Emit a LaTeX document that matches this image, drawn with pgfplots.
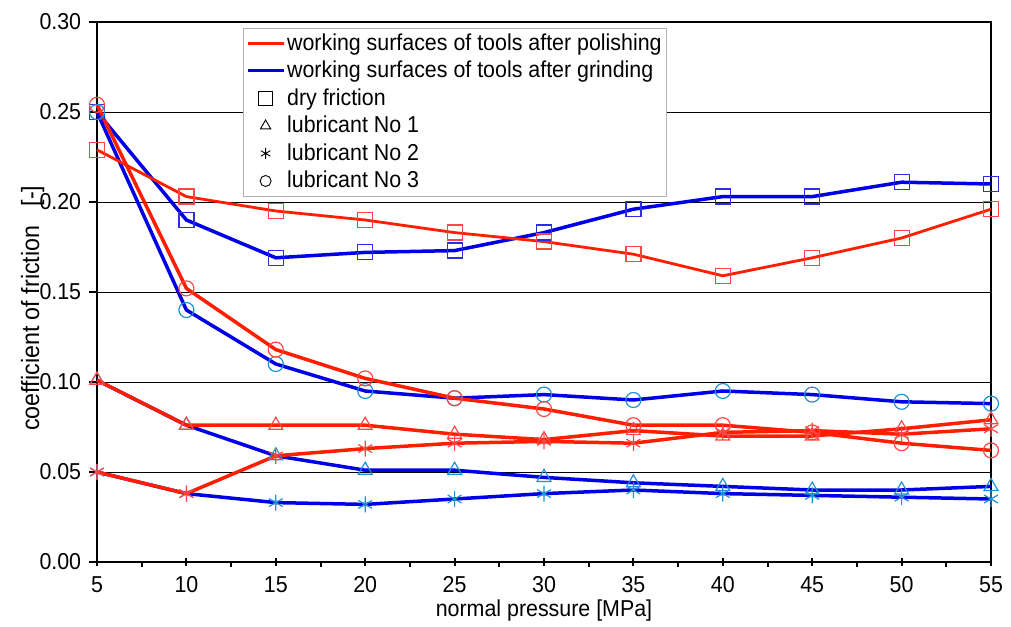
\documentclass[border=0pt]{standalone}
\usepackage{pgfplots}
\pgfplotsset{compat=1.18}
\usepackage{fontspec}
\setmainfont{Liberation Sans}[FakeStretch=0.93]
\definecolor{pred}{RGB}{255,30,0}
\definecolor{pblue}{RGB}{0,0,230}
\definecolor{mred}{RGB}{255,70,70}
\definecolor{mblue}{RGB}{45,45,225}
\definecolor{mcyan}{RGB}{30,145,215}
\begin{document}
\fontsize{23}{26}\selectfont
\begin{tikzpicture}
\useasboundingbox (-97pt,-64pt) rectangle (914pt,562pt);
\begin{axis}[
  at={(0pt,0pt)}, anchor=south west,
  scale only axis, width=894pt, height=540pt,
  xmin=5, xmax=55, ymin=0, ymax=0.30,
  xtick={5,10,...,55}, minor x tick num=1,
  ytick={0,0.05,0.10,0.15,0.20,0.25,0.30},
  yticklabel style={/pgf/number format/.cd,fixed,fixed zerofill,precision=2},
  /pgf/number format/assume math mode=true,
  tick label style={font=\fontsize{23}{26}\selectfont},
  xticklabel style={yshift=1pt},
  label style={font=\fontsize{23}{26}\selectfont},
  ymajorgrids, grid style={black, line width=0.9pt},
  axis line style={line width=2.8pt},
  tick style={black, line width=2pt},
  tick align=outside, major tick length=8pt, minor tick length=5pt,
  every major x tick/.append style={yshift=4pt},
  xtick pos=bottom, ytick pos=left,
  xlabel={normal pressure [MPa]},
  ylabel={coefficient of friction\ \ \ [-]},
  every axis y label/.style={at={(axis description cs:-0.072,0.47)}, rotate=90, anchor=center, font=\fontsize{25}{28}\selectfont},
  every axis x label/.style={at={(axis description cs:0.5,0)}, yshift=-49pt, anchor=center},
  clip=false,
  legend style={at={(0.163,0.989)}, anchor=north west, draw=gray!60, line width=0.8pt,
    font=\fontsize{23}{26}\selectfont, row sep=3.4pt, inner sep=3pt,
    cells={anchor=west, inner xsep=5pt}},
  legend image code/.code={\draw[mark repeat=2,mark phase=2,#1] plot coordinates {(0pt,0pt) (18pt,0pt) (36pt,0pt)};},
]
\addlegendimage{pred, line width=3pt}
\addlegendentry{working surfaces of tools after polishing}
\addlegendimage{pblue, line width=3pt}
\addlegendentry{working surfaces of tools after grinding}
\addlegendimage{only marks, mark=square, mark size=7pt, mark options={black, line width=1pt}}
\addlegendentry{dry friction}
\addlegendimage{only marks, mark=triangle, mark size=6pt, mark options={black, line width=0.9pt}}
\addlegendentry{lubricant No 1}
\addlegendimage{only marks, mark=asterisk, mark size=5.5pt, mark options={black, line width=0.9pt}}
\addlegendentry{lubricant No 2}
\addlegendimage{only marks, mark=o, mark size=5.5pt, mark options={black, line width=0.9pt}}
\addlegendentry{lubricant No 3}

% grinding (blue)
\addplot[pblue, line width=3.5pt, mark=square, mark size=7.5pt, mark options={draw=mblue, line width=1.2pt, fill=none}]
 coordinates {(5,0.250)(10,0.190)(15,0.169)(20,0.172)(25,0.173)(30,0.183)(35,0.196)(40,0.203)(45,0.203)(50,0.211)(55,0.210)};
\addplot[pblue, line width=3.5pt, mark=triangle, mark size=8pt, mark options={draw=mcyan, line width=1.2pt, fill=none}]
 coordinates {(5,0.101)(10,0.076)(15,0.059)(20,0.051)(25,0.051)(30,0.047)(35,0.044)(40,0.042)(45,0.040)(50,0.040)(55,0.042)};
\addplot[pblue, line width=3.5pt, mark=asterisk, mark size=8pt, mark options={draw=mcyan, line width=1.2pt, fill=none}]
 coordinates {(5,0.050)(10,0.038)(15,0.033)(20,0.032)(25,0.035)(30,0.038)(35,0.040)(40,0.038)(45,0.037)(50,0.036)(55,0.035)};
\addplot[pblue, line width=3.5pt, mark=o, mark size=7.5pt, mark options={draw=mcyan, line width=1.2pt, fill=none}]
 coordinates {(5,0.250)(10,0.140)(15,0.110)(20,0.095)(25,0.091)(30,0.093)(35,0.090)(40,0.095)(45,0.093)(50,0.089)(55,0.088)};
% polishing (red)
\addplot[pred, line width=2.8pt, mark=square, mark size=7.5pt, mark options={draw=mred, line width=1.2pt, fill=none}]
 coordinates {(5,0.229)(10,0.203)(15,0.195)(20,0.190)(25,0.183)(30,0.178)(35,0.171)(40,0.159)(45,0.169)(50,0.180)(55,0.196)};
\addplot[pred, line width=3.5pt, mark=triangle, mark size=8pt, mark options={draw=mred, line width=1.2pt, fill=none}]
 coordinates {(5,0.101)(10,0.076)(15,0.076)(20,0.076)(25,0.071)(30,0.068)(35,0.073)(40,0.070)(45,0.070)(50,0.074)(55,0.079)};
\addplot[pred, line width=3.5pt, mark=asterisk, mark size=8pt, mark options={draw=mred, line width=1.2pt, fill=none}]
 coordinates {(5,0.050)(10,0.038)(15,0.059)(20,0.063)(25,0.066)(30,0.067)(35,0.066)(40,0.072)(45,0.073)(50,0.071)(55,0.074)};
\addplot[pred, line width=3.5pt, mark=o, mark size=7.5pt, mark options={draw=mred, line width=1.2pt, fill=none}]
 coordinates {(5,0.254)(10,0.152)(15,0.118)(20,0.102)(25,0.091)(30,0.085)(35,0.076)(40,0.076)(45,0.072)(50,0.066)(55,0.062)};
\end{axis}
\end{tikzpicture}
\end{document}
